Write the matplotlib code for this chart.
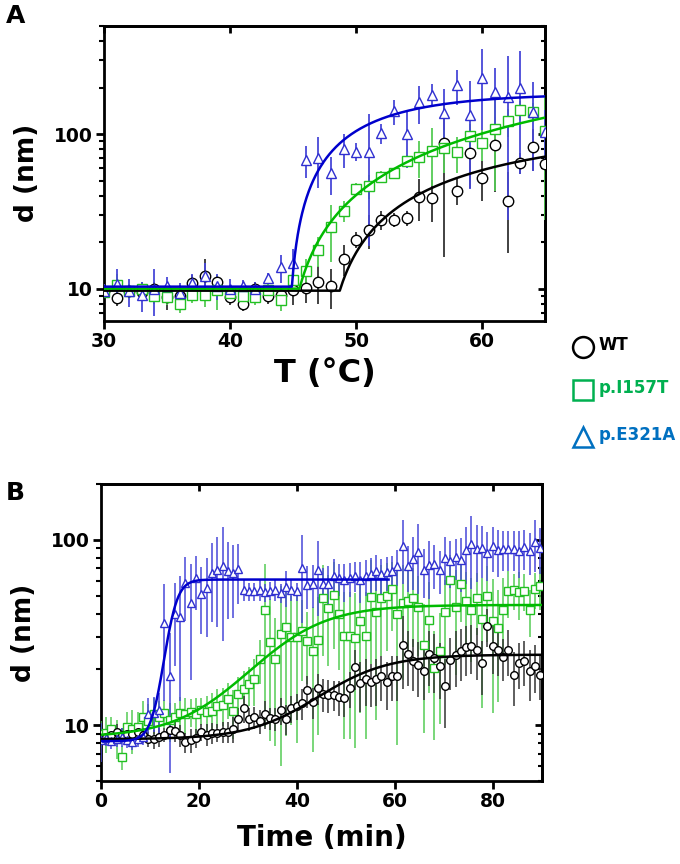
import numpy as np
import matplotlib
matplotlib.use("Agg")
import matplotlib.pyplot as plt
from matplotlib.lines import Line2D
from matplotlib.ticker import NullFormatter

plt.rcParams['font.family'] = ['DejaVu Sans']
plt.rcParams['font.weight'] = 'bold'

# ---------------- Panel A data (temperature ramp) ----------------
temp_A = [30, 31, 32, 33, 34, 35, 36, 37, 38, 39, 40, 41, 42, 43, 44, 45, 46, 47,
          48, 49, 50, 51, 52, 53, 54, 55, 56, 57, 58, 59, 60, 61, 62, 63, 64, 65]
wt_A = [9.6, 8.7, 9.6, 9.5, 10.0, 8.8, 9.0, 10.8, 12.1, 11.0, 8.8, 8.0, 10.0, 9.0, 9.1, 9.8, 10.1, 11.0,
        10.4, 15.6, 20.7, 24.0, 27.9, 27.9, 28.6, 39.4, 38.8, 88.0, 43.0, 75.0, 52.0, 85.0, 37.0, 65.0, 83.0, 64.0]
wt_A_err = [0.8, 1.0, 0.8, 1.0, 1.0, 1.5, 1.5, 1.5, 3.5, 1.2, 1.0, 0.8, 1.0, 1.0, 1.2, 2.0, 2.0, 3.0,
            3.0, 3.5, 2.5, 6.0, 4.0, 3.0, 3.0, 12.0, 12.0, 72.0, 8.0, 30.0, 15.0, 43.0, 20.0, 10.0, 25.0, 15.0]
i157t_A = [9.5, 10.5, 9.7, 10.0, 8.9, 8.8, 8.0, 9.1, 9.1, 9.8, 9.3, 8.9, 8.8, 9.8, 8.4, 11.3, 13.0, 17.7,
           24.9, 31.8, 44.0, 46.0, 53.0, 55.6, 67.0, 71.0, 78.0, 81.0, 76.0, 97.0, 87.0, 108.0, 121.0, 143.0, 139.0, 104.0]
i157t_A_err = [0.8, 2.0, 1.0, 1.0, 1.0, 1.0, 1.0, 1.0, 1.5, 2.5, 1.0, 1.0, 1.0, 1.0, 1.2, 1.5, 2.5, 4.0,
               10.0, 5.0, 4.0, 8.0, 5.0, 4.0, 6.0, 19.0, 32.0, 25.0, 20.0, 20.0, 20.0, 65.0, 25.0, 20.0, 20.0, 76.0]
e321a_A = [9.7, 10.7, 9.6, 9.1, 10.0, 10.4, 9.4, 10.9, 12.1, 10.4, 10.0, 10.4, 10.0, 11.7, 13.7, 14.6, 67.6, 70.0,
           55.6, 80.0, 77.0, 77.0, 101.0, 140.0, 100.0, 161.0, 180.0, 137.0, 207.0, 132.0, 230.0, 186.0, 174.0, 200.0, 138.0, 103.0]
e321a_A_err = [1.0, 2.7, 2.0, 2.0, 3.3, 1.5, 1.5, 1.5, 2.5, 2.0, 1.5, 1.0, 1.0, 1.0, 2.8, 3.5, 16.0, 25.0,
               15.0, 20.0, 10.0, 58.0, 15.0, 25.0, 40.0, 45.0, 30.0, 60.0, 53.0, 88.0, 124.0, 80.0, 146.0, 145.0, 80.0, 40.0]

# fitted model parameters (plateau followed by one-phase association)
fit_A = {
    'WT':      dict(base=9.7, T0=48.7, span=99.0, k=0.06),
    'p.I157T': dict(base=10.0, T0=45.5, span=465.0, k=0.015),
    'p.E321A': dict(base=10.3, T0=44.9, span=172.6, k=0.155),
}

# ---------------- Panel B data (time course) ----------------
time_B = [0.0, 1.08, 2.16, 3.24, 4.32, 5.4, 6.48, 7.56, 8.64, 9.72, 10.8, 11.88, 12.96, 14.04, 15.12,
          16.2, 17.28, 18.36, 19.44, 20.52, 21.6, 22.68, 23.76, 24.84, 25.92, 27.0, 28.08, 29.16, 30.24,
          31.32, 32.4, 33.48, 34.56, 35.64, 36.72, 37.8, 38.88, 39.96, 41.04, 42.12, 43.2, 44.28, 45.36,
          46.44, 47.52, 48.6, 49.68, 50.76, 51.84, 52.92, 54.0, 55.08, 56.16, 57.24, 58.32, 59.4, 60.48,
          61.56, 62.64, 63.72, 64.8, 65.88, 66.96, 68.04, 69.12, 70.2, 71.28, 72.36, 73.44, 74.52, 75.6,
          76.68, 77.76, 78.84, 79.92, 81.0, 82.08, 83.16, 84.24, 85.32, 86.4, 87.48, 88.56, 89.64]
wt_B = [8.4, 8.6, 8.8, 9.2, 8.9, 9.0, 9.0, 9.2, 8.8, 8.4, 8.4, 8.6, 8.9, 9.4, 9.3, 8.8, 8.1, 8.3, 8.5, 9.2,
        8.9, 9.1, 9.1, 9.2, 9.2, 9.5,
        10.8, 12.3, 10.8, 11.0, 10.5, 11.5, 10.9, 10.8, 12.0, 10.8, 12.3, 12.7, 13.1, 15.4, 13.3, 15.8,
        14.8, 14.6, 14.6, 14.2, 14.0, 15.8, 20.5, 16.8, 17.7, 17.0, 17.7, 18.5, 17.0, 18.5, 18.5,
        27.2, 24.2, 22.3, 21.2, 19.7, 24.2, 23.0, 20.9, 16.2, 22.5, 24.0, 25.2, 26.3, 26.8, 25.5, 21.6,
        34.4, 26.8, 25.5, 23.2, 25.4, 18.7, 21.7, 22.3, 19.5, 20.9, 18.7]
wt_B_err = [1.0, 0.8, 0.8, 1.0, 0.8, 0.8, 1.0, 0.8, 0.8, 0.8, 1.0, 1.0, 0.8, 1.0, 1.2, 1.2, 1.0, 1.2, 1.0,
            1.0, 1.2, 1.2, 1.0, 1.2, 1.2, 1.5,
            1.5, 2.0, 1.5, 1.5, 1.5, 2.0, 1.5, 1.5, 2.0, 2.0, 2.0, 2.0, 2.5, 3.0, 2.5, 3.0,
            3.0, 3.0, 2.7, 3.0, 3.0, 3.5, 5.0, 5.0, 5.0, 4.5, 5.0, 5.0, 5.0, 5.0, 5.0,
            11.6, 8.0, 7.0, 7.0, 6.0, 8.0, 8.0, 7.0, 6.5, 7.0, 8.0, 8.0, 8.0, 8.0, 8.0, 7.0, 8.0, 8.0,
            7.0, 6.0, 7.0, 6.0, 6.0, 6.0, 6.0, 6.0, 5.0]
i157t_B = [9.0, 9.1, 9.5, 8.6, 6.7, 9.8, 9.5, 9.8, 11.0, 10.5, 11.5, 11.0, 11.6, 10.6, 11.1, 11.6, 11.5,
           11.8, 11.5, 12.0, 11.8,
           11.9, 12.7, 12.9, 13.8, 11.95, 14.7, 15.6, 16.7, 17.7, 22.7, 41.8, 28.2, 22.7, 31.0, 33.7, 30.0,
           30.0, 32.3, 28.6, 25.2, 28.9,
           48.5, 42.9, 50.6, 39.8, 30.4, 30.4, 29.5, 36.6, 30.4, 49.4, 40.6, 48.5, 50.0, 54.3, 39.8, 45.5,
           47.0, 48.3, 43.6, 27.1, 37.0,
           20.3, 25.2, 41.0, 60.4, 43.6, 58.0, 46.6, 41.8, 48.5, 37.4, 50.0, 36.6, 33.3, 41.8, 52.8, 53.6,
           52.0, 53.2, 41.8, 54.3, 56.6]
i157t_B_err = [1.5, 2.0, 1.5, 2.0, 1.0, 2.0, 2.5, 2.0, 2.5, 2.5, 2.5, 2.5, 2.0, 2.5, 2.0, 2.5, 2.5, 2.0,
               2.5, 2.0, 2.5,
               3.0, 3.0, 3.0, 3.0, 3.5, 3.5, 4.0, 4.0, 5.0, 6.0, 32.0, 20.0, 15.0, 25.0, 25.0, 20.0, 22.0,
               15.0, 12.0, 18.0, 20.0,
               25.0, 22.0, 25.0, 20.0, 22.0, 22.0, 22.0, 25.0, 22.0, 28.0, 30.0, 25.0, 25.0, 22.0, 32.0,
               28.0, 22.0, 22.0, 20.0, 18.0, 22.0,
               12.0, 15.0, 20.0, 22.0, 25.0, 22.0, 20.0, 20.0, 18.0, 25.0, 22.0, 25.0, 20.0, 20.0, 15.0,
               12.0, 15.0, 12.0, 12.0, 12.0, 15.0]
e321a_B = [8.3, 8.5, 8.2, 8.4, 8.6, 8.3, 8.1, 8.4, 8.6,
           11.5, 11.7, 12.0,
           35.5, 18.5, 39.8, 38.5, 58.5, 45.6, 62.0, 51.0, 55.0, 66.0, 68.7, 72.5, 67.6, 66.0, 69.8,
           53.6, 52.8, 52.8, 53.6, 52.0, 53.2, 53.6, 51.5, 55.5, 53.6, 52.8,
           70.5, 57.3, 57.7, 68.7, 58.0, 58.0, 64.0, 62.0, 60.4, 62.0, 64.0, 60.4, 64.0, 65.5, 67.6, 65.0,
           67.0, 68.0,
           72.5, 93.0, 72.5, 78.8, 86.0, 68.7, 73.0, 74.0, 68.7, 80.0, 76.7, 81.0, 77.3, 87.5, 94.3, 89.5,
           90.0, 85.0, 92.0, 88.3, 89.5, 89.5, 89.5, 87.0, 91.0, 86.6, 97.0, 90.0]
e321a_B_err = [2.0, 0.8, 0.8, 0.8, 1.0, 0.8, 0.8, 0.8, 0.8,
               2.5, 2.5, 3.0,
               22.0, 13.0, 19.0, 25.0, 22.0, 28.0, 20.0, 20.0, 25.0, 30.0, 35.0, 44.0, 30.0, 28.0, 25.0,
               7.0, 6.0, 6.0, 7.0, 6.0, 6.0, 7.0, 6.0, 12.0, 7.0, 6.0,
               35.0, 15.0, 15.0, 30.0, 12.0, 14.0, 15.0, 12.0, 14.0, 13.0, 12.0, 15.0, 14.0, 14.0, 15.0,
               14.0, 14.0, 14.0,
               16.0, 35.0, 20.0, 25.0, 35.0, 20.0, 25.0, 20.0, 18.0, 23.0, 22.0, 20.0, 25.0, 30.0, 40.0,
               30.0, 28.0, 25.0, 25.0, 25.0, 22.0, 22.0, 22.0, 25.0, 22.0, 22.0, 30.0, 25.0]

# fitted model parameters (Boltzmann sigmoid)
fit_B = {
    'WT':      dict(bottom=8.4, top=24.0, t50=48.0, slope=7.0, tmax=90.0),
    'p.I157T': dict(bottom=8.6, top=44.5, t50=36.5, slope=7.5, tmax=90.0),
    'p.E321A': dict(bottom=8.2, top=61.0, t50=14.2, slope=1.3, tmax=58.7),
}

labels = ['WT', 'p.I157T', 'p.E321A']

# ---------------- styles ----------------
style = {
    'WT':      dict(marker='o', mec='black', ecolor='#333333', line='black'),
    'p.I157T': dict(marker='s', mec='#22c022', ecolor='#55cc55', line='#00bb00'),
    'p.E321A': dict(marker='^', mec='#3030d0', ecolor='#4848d8', line='#0000cc'),
}
legend_colors = {'WT': 'black', 'p.I157T': '#00b050', 'p.E321A': '#0070c0'}


def plateau_assoc(x, base, T0, span, k):
    x = np.asarray(x, float)
    return np.where(x < T0, base, base + span * (1 - np.exp(-k * (x - T0))))


def boltzmann(x, bottom, top, t50, slope):
    return bottom + (top - bottom) / (1 + np.exp((t50 - x) / slope))


def errbar(ax, x, y, e, lab, ms, elw):
    y = np.asarray(y, float)
    e = np.asarray(e, float)
    lower = np.minimum(e, y - 1e-3)
    st = style[lab]
    ax.errorbar(x, y, yerr=[lower, e], fmt=st['marker'], ms=ms, mfc='white', mec=st['mec'],
                mew=1.0, ecolor=st['ecolor'], elinewidth=elw, capsize=0, zorder=3)


def style_axes(ax, xmajors):
    for s in ax.spines.values():
        s.set_linewidth(2.0)
    ax.tick_params(which='major', direction='out', length=6, width=2, labelsize=13.5,
                   top=False, right=False, pad=2)
    ax.tick_params(which='minor', direction='out', length=3.5, width=1.5, top=False, right=False)
    ax.tick_params(axis='x', which='minor', bottom=False)
    ax.yaxis.set_minor_formatter(NullFormatter())
    sx = ax.secondary_xaxis('top')
    sx.set_xticks(xmajors)
    sx.tick_params(direction='in', length=5, width=2, labeltop=False)
    sx.spines['top'].set_linewidth(2.0)
    sy = ax.secondary_yaxis('right')
    sy.tick_params(which='both', direction='in', labelright=False)
    sy.tick_params(which='major', length=5, width=2)
    sy.tick_params(which='minor', length=3, width=1.5)
    sy.yaxis.set_minor_formatter(NullFormatter())
    sy.spines['right'].set_linewidth(2.0)


fig = plt.figure(figsize=(6.8, 8.64), dpi=100)

# ---------------- Panel A ----------------
axA = fig.add_axes([0.1529, 0.6288, 0.6491, 0.3411])
axA.set_yscale('log')
data_A = {'WT': (wt_A, wt_A_err), 'p.I157T': (i157t_A, i157t_A_err), 'p.E321A': (e321a_A, e321a_A_err)}
for lab in labels:
    y, e = data_A[lab]
    errbar(axA, temp_A, y, e, lab, ms=7.5, elw=1.3)
Tfine = np.linspace(30, 65, 600)
for lab in labels:
    axA.plot(Tfine, plateau_assoc(Tfine, **fit_A[lab]), color=style[lab]['line'], lw=1.8, zorder=4)
axA.set_xlim(30, 65)
axA.set_ylim(6.2, 500)
axA.set_xticks([30, 40, 50, 60])
axA.set_yticks([10, 100])
axA.set_yticklabels(['10', '100'])
style_axes(axA, [30, 40, 50, 60])
axA.set_xlabel('T (°C)', fontsize=23, fontweight='bold', labelpad=5)
axA.set_ylabel('d (nm)', fontsize=19, fontweight='bold', labelpad=10)

# ---------------- Panel B ----------------
axB = fig.add_axes([0.1481, 0.0961, 0.6490, 0.3438])
axB.set_yscale('log')
data_B = {'WT': (wt_B, wt_B_err), 'p.I157T': (i157t_B, i157t_B_err), 'p.E321A': (e321a_B, e321a_B_err)}
for lab in ['p.I157T', 'WT', 'p.E321A']:
    y, e = data_B[lab]
    errbar(axB, time_B, y, e, lab, ms=5.5, elw=1.1)
for lab in labels:
    p = fit_B[lab]
    tf = np.linspace(0, p['tmax'], 500)
    axB.plot(tf, boltzmann(tf, p['bottom'], p['top'], p['t50'], p['slope']),
             color=style[lab]['line'], lw=1.8, zorder=4)
axB.set_xlim(0, 90)
axB.set_ylim(5, 200)
axB.set_xticks([0, 20, 40, 60, 80])
axB.set_yticks([10, 100])
axB.set_yticklabels(['10', '100'])
style_axes(axB, [20, 40, 60, 80])
axB.set_xlabel('Time (min)', fontsize=20, fontweight='bold', labelpad=9)
axB.set_ylabel('d (nm)', fontsize=19, fontweight='bold', labelpad=10)

# ---------------- panel letters ----------------
fig.text(0.008, 0.995, 'A', fontsize=18, fontweight='bold', va='top', ha='left')
fig.text(0.008, 0.443, 'B', fontsize=18, fontweight='bold', va='top', ha='left')

# ---------------- legend ----------------
leg_y = [0.5984, 0.5486, 0.4942]
leg_marker = {'WT': 'o', 'p.I157T': 's', 'p.E321A': '^'}
for lab, yy in zip(labels, leg_y):
    c = legend_colors[lab]
    fig.add_artist(Line2D([0.8570], [yy], marker=leg_marker[lab], ms=15, mfc='none', mec=c, mew=1.8,
                          linestyle='none', transform=fig.transFigure))
    fig.text(0.880, yy + 0.002, lab, color=c, fontsize=12, fontweight='bold', va='center', ha='left')

fig.savefig('out.png', dpi=100)
